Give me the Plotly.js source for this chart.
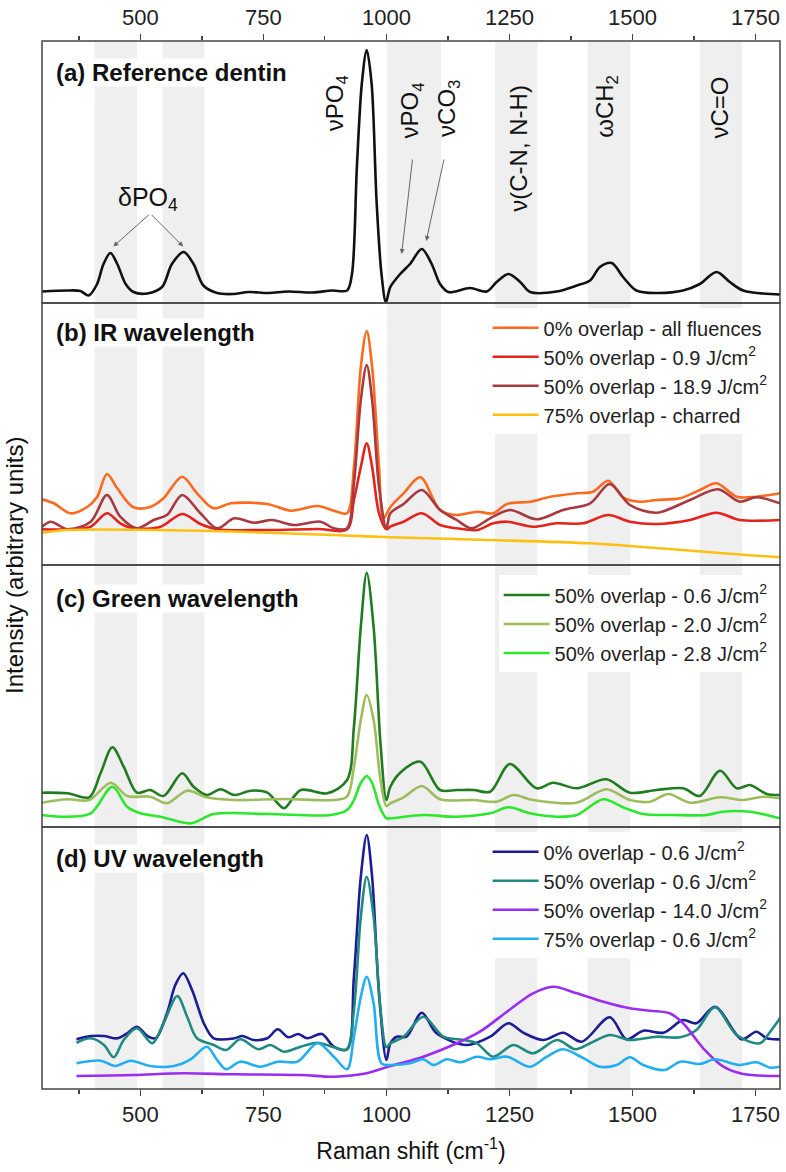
<!DOCTYPE html>
<html>
<head>
<meta charset="utf-8">
<script src="https://cdn.plot.ly/plotly-3.0.1.min.js"></script>
<style>
  body { margin: 0; background: #fff; }
  #chart { width: 786px; height: 1172px; }
</style>
</head>
<body>
<div id="chart"></div>
<script>
// Raman spectra of dentin, four stacked panels (intensity in arbitrary units)

// shaded bands (cm-1)
var bands = [[407, 493], [545, 630], [1001, 1111], [1221, 1307], [1409, 1496], [1637, 1723]];
var xTicks = [500, 750, 1000, 1250, 1500, 1750];
var xMinor = [375, 625, 875, 1125, 1375, 1625];

// (a) reference dentin
var refX = [300,351,378,395,412,425,439,453,470,486,514,544,564,588,608,628,656,689,720,760,800,850,890,920,930,940,950,960,970,980,990,999,1008,1028,1048,1072,1092,1109,1126,1170,1204,1224,1248,1272,1292,1346,1387,1414,1434,1458,1481,1508,1549,1603,1637,1671,1698,1725,1800];
var refY = [11.5,12.5,12,7.5,19,39,50,39,19,11,9.5,16,39,51,39,17.5,10,9,11,10,11.5,10.5,12.5,12.5,29,136,219,253,219,102,29,1,16,29,39,54,39,19,11,15,11.5,21,29,21,11,11.5,17.5,22.5,36,40,26,12.5,10,12.5,19,31,21,12.5,8.5];

// (b) IR wavelength
var ir0X = [300,324,358,392,412,432,453,486,520,547,585,615,649,684,758,806,860,893,920,934,948,960,971,985,994,1008,1035,1069,1109,1143,1184,1217,1245,1292,1333,1387,1420,1451,1481,1515,1549,1597,1637,1671,1712,1752,1800];
var ir0Y = [65.7,61.7,51.7,58,68,91,76.7,57.7,58,66.7,88.3,71.7,56.7,61.7,61,54.3,59,54.3,51.7,98,198,234,198,98,46.7,58,71.7,87.7,55,50,53.3,51.7,61,63.3,68.3,71.7,73.3,84.3,67.7,63.3,65,66.7,75,81.7,68.3,68.3,71.7];
var ir50aX = [300,352,399,432,459,486,541,585,622,656,758,860,920,934,948,960,971,985,1000,1008,1035,1072,1109,1143,1184,1217,1245,1298,1346,1400,1451,1495,1549,1617,1671,1718,1800];
var ir50aY = [35.7,35.7,38.3,51.7,41.7,36.7,38.3,51,41,35.7,35,36,35.7,65,98,121.7,98,51.7,35.7,38.3,43.3,51.7,40,36.7,35,41.7,43.3,38.3,41.7,41.7,50,43.3,41,45,52.3,45,45];
var ir50bX = [300,318,352,399,432,459,493,527,554,585,622,656,691,731,768,812,866,893,920,934,948,960,971,985,1000,1008,1035,1072,1109,1143,1173,1211,1251,1305,1359,1414,1454,1495,1549,1617,1674,1718,1752,1800];
var ir50bY = [38.3,43.3,35.7,43.3,70,48.3,36.7,45,50,70,51.7,36.7,46.7,42.3,45,40,43.3,36.7,36.7,81.7,165,200,165,78.3,36.7,51.7,61,75,55,45,36.7,46.7,55,45.7,55,61.7,81,60,52.3,65,75.7,63.3,67.7,61.7];
var ir75X = [300,352,622,893,1008,1211,1414,1515,1684,1800];
var ir75Y = [32.3,35,34.3,30,27.7,25,21.7,18.3,11.7,7.7];

// (c) green wavelength
var gr06X = [300,352,396,419,443,466,493,520,547,585,608,635,663,691,724,758,779,792,826,880,920,934,948,960,974,988,1000,1008,1028,1069,1109,1143,1177,1211,1251,1305,1339,1387,1447,1495,1549,1603,1637,1678,1712,1739,1773,1800];
var gr06Y = [34.3,33.7,29.7,53.7,79.7,60.3,34.3,37,31,53.7,40.3,32,37.7,32,36.3,34.3,23.7,18.7,37,33.7,47,100.3,200.3,254.3,200,83.7,27,40.3,54.3,65.3,37,37,37,35.3,63,38.7,44.3,38.7,47.7,34.3,37,38.7,31,56.3,38.7,42,33,32];
var gr20X = [300,352,396,440,473,520,554,595,635,691,792,893,920,934,948,960,974,988,1000,1008,1035,1072,1109,1177,1224,1258,1298,1387,1447,1495,1536,1573,1617,1678,1725,1766,1800];
var gr20Y = [24.3,27.7,27,44.3,31,30.3,23.7,36.3,29.7,27,28,27,30.3,60.3,107,132,107,47,21,23.7,29.7,41,27.7,27,25.3,32,27,24.3,37.7,27,25.3,33,24.3,29.7,27,30.3,28.7];
var gr28X = [300,339,399,443,473,500,541,602,649,758,887,920,934,948,960,971,985,1000,1008,1075,1143,1211,1248,1292,1346,1387,1441,1481,1522,1583,1651,1684,1739,1800];
var gr28Y = [12,10.3,13.7,40.3,20.3,13.7,10.3,3.7,13,13,12,17,27,44,51,44,22,8.7,8.7,12,10.3,13.7,19.7,13.7,10.3,12,27.7,19.7,13,12,12,15.3,15.3,8.7];

// (d) UV wavelength
var uv0X = [370,399,426,453,473,493,514,531,554,571,587,605,629,649,691,707,730,758,779,801,821,839,869,893,920,934,948,960,971,985,1000,1008,1021,1041,1072,1102,1163,1211,1248,1278,1319,1359,1397,1454,1488,1522,1563,1603,1630,1668,1722,1752,1773,1800];
var uv0Y = [49.7,53,53,50.7,55.7,62.3,53,50.7,75.7,104,115.7,99,65.7,50.7,50.7,53,49,50.7,59.7,51.7,55,50.7,55,42.3,39.7,112.3,212.3,254,212,95.7,29,45.7,52.3,52.3,76.3,55.7,44,52.3,65.7,56.3,49,56.3,47.3,71.7,49.7,58.3,56.3,69,65.7,82.3,49.7,57.3,50.7,49.7];
var uv50aX = [370,399,426,446,466,493,524,547,575,595,615,649,674,703,740,764,792,826,860,893,920,934,948,960,974,988,1000,1008,1035,1075,1116,1157,1184,1217,1258,1298,1347,1384,1414,1454,1495,1549,1597,1630,1668,1712,1759,1780,1800];
var uv50aY = [46.3,50.7,44,31.7,49,60.7,45.7,65.7,93,72.3,50.7,44,39,49.7,39.7,44,37.3,42.3,46.3,41.7,39.7,79,172.3,212.3,172.3,79,41.7,45.7,52.3,72.3,52.3,49,45.7,32.3,44,35.7,49,39.7,45.7,54,49,52.3,51.7,59,81.7,54,45.7,57.3,70.7];
var uv50bX = [370,486,587,691,826,893,960,1008,1075,1143,1190,1245,1298,1339,1387,1441,1495,1536,1576,1603,1644,1685,1725,1800];
var uv50bY = [13,14,15.7,14.7,14,12.3,15.7,23,32.3,45.7,57.3,77.3,95.7,102.3,95.7,87.3,80.7,78.3,75.7,65.7,40.7,22.3,15,13];
var uv75X = [370,419,449,480,520,568,602,635,656,674,703,744,779,819,860,893,920,934,948,960,974,990,1008,1048,1075,1096,1123,1150,1184,1211,1245,1292,1326,1359,1400,1434,1468,1495,1522,1566,1597,1637,1668,1718,1752,1780,1800];
var uv75Y = [25.7,28.3,23,28.3,23,23,29.7,42.3,29,19.7,27.3,22.3,27.3,27.3,45.7,32.3,19.7,52.3,92.3,112.3,85.7,25.7,24,25.7,29.7,24,29.7,26.7,32.3,29.7,32.3,22.3,32.3,39.7,31,22.3,24,31.7,24,19,27.3,25,29.7,24,26.7,21.3,22.3];

var FONT = 'Liberation Sans, Arial, Helvetica, sans-serif';

function spec(x, y, xa, ya, color, name, legend) {
  return {
    x: x, y: y, xaxis: xa, yaxis: ya,
    type: 'scatter', mode: 'lines', name: name,
    line: {color: color, width: 2.6, shape: 'spline', smoothing: 0.9},
    showlegend: !!legend, legend: legend || 'legend',
    hoverinfo: 'none'
  };
}

var data = [
  spec(refX, refY, 'x2', 'y', '#111111', 'Reference dentin', null),

  spec(ir0X, ir0Y, 'x', 'y2', '#fb6a1e', '0% overlap - all fluences', 'legend'),
  spec(ir50aX, ir50aY, 'x', 'y2', '#e3231c', '50% overlap - 0.9 J/cm<sup>2</sup>', 'legend'),
  spec(ir50bX, ir50bY, 'x', 'y2', '#a8393f', '50% overlap - 18.9 J/cm<sup>2</sup>', 'legend'),
  spec(ir75X, ir75Y, 'x', 'y2', '#fcc013', '75% overlap - charred', 'legend'),

  spec(gr06X, gr06Y, 'x', 'y3', '#1f7d1f', '50% overlap - 0.6 J/cm<sup>2</sup>', 'legend2'),
  spec(gr20X, gr20Y, 'x', 'y3', '#9dbd5c', '50% overlap - 2.0 J/cm<sup>2</sup>', 'legend2'),
  spec(gr28X, gr28Y, 'x', 'y3', '#2ce82c', '50% overlap - 2.8 J/cm<sup>2</sup>', 'legend2'),

  spec(uv0X, uv0Y, 'x', 'y4', '#1c1c94', '0% overlap - 0.6 J/cm<sup>2</sup>', 'legend3'),
  spec(uv50aX, uv50aY, 'x', 'y4', '#1e8a80', '50% overlap - 0.6 J/cm<sup>2</sup>', 'legend3'),
  spec(uv50bX, uv50bY, 'x', 'y4', '#9b2cf2', '50% overlap - 14.0 J/cm<sup>2</sup>', 'legend3'),
  spec(uv75X, uv75Y, 'x', 'y4', '#22aef0', '75% overlap - 0.6 J/cm<sup>2</sup>', 'legend3')
];

// grey bands and panel frames
var shapes = bands.map(function (b) {
  return {type: 'rect', xref: 'x', yref: 'paper', x0: b[0], x1: b[1], y0: 0, y1: 1,
          fillcolor: '#efefef', line: {width: 0}, layer: 'below'};
});
[[0.75, 1], [0.5, 0.75], [0.25, 0.5], [0, 0.25]].forEach(function (d) {
  shapes.push({type: 'rect', xref: 'paper', yref: 'paper', x0: 0, x1: 1, y0: d[0], y1: d[1],
               line: {color: '#444', width: 1.5}, fillcolor: 'rgba(0,0,0,0)', layer: 'above'});
});

function lbl(text, y) {
  return {text: '<b>' + text + '</b>', xref: 'paper', yref: 'paper', x: 0.018, y: y,
          xanchor: 'left', yanchor: 'middle', showarrow: false, bgcolor: '#ffffff',
          borderpad: 0, font: {family: FONT, size: 24, color: '#111'}};
}
function vlab(text, x, y) {
  return {text: text, xref: 'x2', yref: 'y', x: x, y: y, textangle: -90, showarrow: false,
          xanchor: 'center', yanchor: 'middle', font: {family: FONT, size: 24, color: '#111'}};
}
function arrow(x, y, ax, ay) {
  return {text: '', xref: 'x2', yref: 'y', x: x, y: y, ax: ax, ay: ay, showarrow: true,
          arrowhead: 2, arrowsize: 1, arrowwidth: 1, arrowcolor: '#666'};
}

var annotations = [
  lbl('(a) Reference dentin', 0.9704),
  lbl('(b) IR wavelength', 0.7214),
  lbl('(c) Green wavelength', 0.4685),
  lbl('(d) UV wavelength', 0.2204),
  {text: '\u03b4PO<sub>4</sub>', xref: 'x2', yref: 'y', x: 516, y: 104, showarrow: false,
   font: {family: FONT, size: 25, color: '#111'}},
  arrow(445, 56.5, 37, -33),
  arrow(587, 56.5, -33, -33),
  vlab('\u03bdPO<sub>4</sub>', 898, 200),
  vlab('\u03bdPO<sub>4</sub>', 1051, 193),
  vlab('\u03bdCO<sub>3</sub>', 1125, 195),
  vlab('\u03bd(C-N, N-H)', 1267, 155),
  vlab('\u03c9CH<sub>2</sub>', 1446, 197),
  vlab('\u03bdC=O', 1677, 196),
  arrow(1031, 49, 11, -96),
  arrow(1081, 62, 18, -83),
  {text: 'Intensity (arbitrary units)', xref: 'paper', yref: 'paper', x: -0.038, y: 0.5,
   textangle: -90, showarrow: false, xanchor: 'center', yanchor: 'middle',
   font: {family: FONT, size: 24, color: '#111'}}
];

function xAxis(side, anchor) {
  return {
    range: [300, 1800], anchor: anchor, side: side, domain: [0, 1],
    tickvals: xTicks, ticktext: xTicks.map(String),
    ticks: 'outside', ticklen: 6, tickwidth: 1.2, tickcolor: '#444',
    minor: {tickvals: xMinor, ticks: 'outside', ticklen: 4, tickwidth: 1.2, tickcolor: '#444'},
    showgrid: false, zeroline: false, showline: false,
    tickfont: {family: FONT, size: 22, color: '#222'}
  };
}
function yAxis(domain, anchor) {
  return {range: [0, 262], domain: domain, anchor: anchor, showgrid: false, zeroline: false,
          showline: false, showticklabels: false, ticks: '', fixedrange: true};
}

var xa = xAxis('bottom', 'y4');
xa.title = {text: 'Raman shift (cm<sup>-1</sup>)', standoff: 16,
            font: {family: FONT, size: 23, color: '#111'}};

function leg(y) {
  return {x: 0.99, xanchor: 'right', y: y, yanchor: 'top', bgcolor: '#ffffff',
          borderwidth: 0, traceorder: 'normal', itemwidth: 46, tracegroupgap: 0,
          font: {family: FONT, size: 20, color: '#222'}};
}

var layout = {
  width: 786, height: 1172,
  margin: {l: 42, r: 6, t: 41, b: 83},
  paper_bgcolor: '#ffffff', plot_bgcolor: '#ffffff',
  font: {family: FONT, color: '#222'},
  xaxis: xa,
  xaxis2: xAxis('top', 'y'),
  yaxis: yAxis([0.75, 1], 'x2'),
  yaxis2: yAxis([0.5, 0.75], 'x'),
  yaxis3: yAxis([0.25, 0.5], 'x'),
  yaxis4: yAxis([0, 0.25], 'x'),
  legend: leg(0.745),
  legend2: leg(0.49),
  legend3: leg(0.245),
  shapes: shapes,
  annotations: annotations
};

Plotly.newPlot('chart', data, layout, {displayModeBar: false, staticPlot: true});
</script>
</body>
</html>
